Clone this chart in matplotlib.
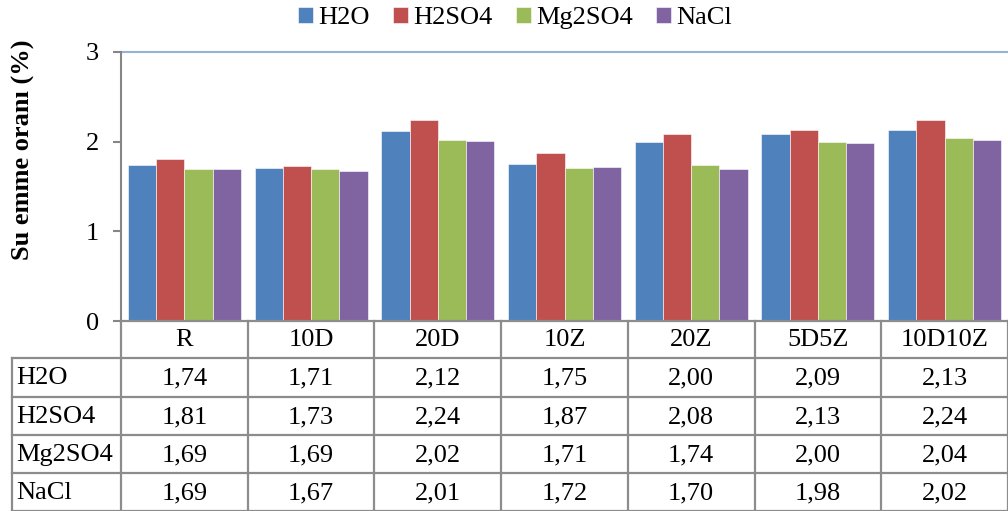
import matplotlib.pyplot as plt
import numpy as np

plt.rcParams['font.family'] = ['Liberation Serif', 'DejaVu Serif']

categories = ["R", "10D", "20D", "10Z", "20Z", "5D5Z", "10D10Z"]
series_names = ["H2O", "H2SO4", "Mg2SO4", "NaCl"]
h2o = [1.74, 1.71, 2.12, 1.75, 2.00, 2.09, 2.13]
h2so4 = [1.81, 1.73, 2.24, 1.87, 2.08, 2.13, 2.24]
mg2so4 = [1.69, 1.69, 2.02, 1.71, 1.74, 2.00, 2.04]
nacl = [1.69, 1.67, 2.01, 1.72, 1.70, 1.98, 2.02]
series = [h2o, h2so4, mg2so4, nacl]
colors = ["#4F81BD", "#C0504D", "#9BBB59", "#8064A2"]

FS = 19
W, H = 1008, 511
fig = plt.figure(figsize=(W / 100, H / 100), dpi=100)

# plot area in pixel coords
x0, x1, ytop, ybot = 121, 1008, 52, 321
ax = fig.add_axes([x0 / W, 1 - ybot / H, (x1 - x0) / W, (ybot - ytop) / H])

n = len(categories)
x = np.arange(n)
bw = 0.223
for i, (vals, name, c) in enumerate(zip(series, series_names, colors)):
    ax.bar(x + (i - 1.5) * bw, vals, bw, color=c, label=name,
           edgecolor="white", linewidth=0.4)

ax.set_xlim(-0.5, n - 0.5)
ax.set_ylim(0, 3)
ax.set_yticks([0, 1, 2, 3])
ax.set_xticks([])
ax.axhline(3, color="#95B3D7", lw=1.5, clip_on=False)
for s in ["top", "right", "bottom"]:
    ax.spines[s].set_visible(False)
ax.spines["left"].set_color("#868686")
ax.spines["left"].set_linewidth(1.5)
ax.tick_params(axis="y", length=6, width=1.5, color="#868686",
               labelsize=FS, pad=10)

fig.text(23 / W, 1 - 150 / H, "Su emme oranı (%)", rotation=90,
         ha="center", va="center", fontsize=FS, fontweight="bold")

fig.legend(loc="center", bbox_to_anchor=(515 / W, 1 - 18 / H), ncol=4,
           frameon=False, fontsize=FS, handlelength=0.55, handleheight=0.55,
           handletextpad=0.2, columnspacing=0.9)

# data table drawn in pixel coords
tb = fig.add_axes([0, 0, 1, 1])
tb.set_xlim(0, W)
tb.set_ylim(H, 0)
tb.axis("off")
lc = "#8C8C8C"
lw = 1.6
col_w = (x1 - x0) / n
row_y = [321, 358, 397, 435, 473, 511]
left = 12

tb.plot([x0, x1], [row_y[0], row_y[0]], color=lc, lw=lw)
for j in range(n + 1):
    xx = x0 + j * col_w
    tb.plot([xx, xx], [row_y[0], row_y[-1]], color=lc, lw=lw)
for r in row_y[1:]:
    tb.plot([left, x1], [r, r], color=lc, lw=lw)
tb.plot([left, left], [row_y[1], row_y[-1]], color=lc, lw=lw)

for j, cat in enumerate(categories):
    tb.text(x0 + (j + 0.5) * col_w, (row_y[0] + row_y[1]) / 2 + 1, cat,
            ha="center", va="center", fontsize=FS)
for i, (vals, name) in enumerate(zip(series, series_names)):
    yc = (row_y[i + 1] + row_y[i + 2]) / 2 + 1
    tb.text(left + 4, yc, name, ha="left", va="center", fontsize=FS)
    for j, v in enumerate(vals):
        tb.text(x0 + (j + 0.5) * col_w, yc, f"{v:.2f}".replace(".", ","),
                ha="center", va="center", fontsize=FS)

fig.savefig("out.png", dpi=100)
